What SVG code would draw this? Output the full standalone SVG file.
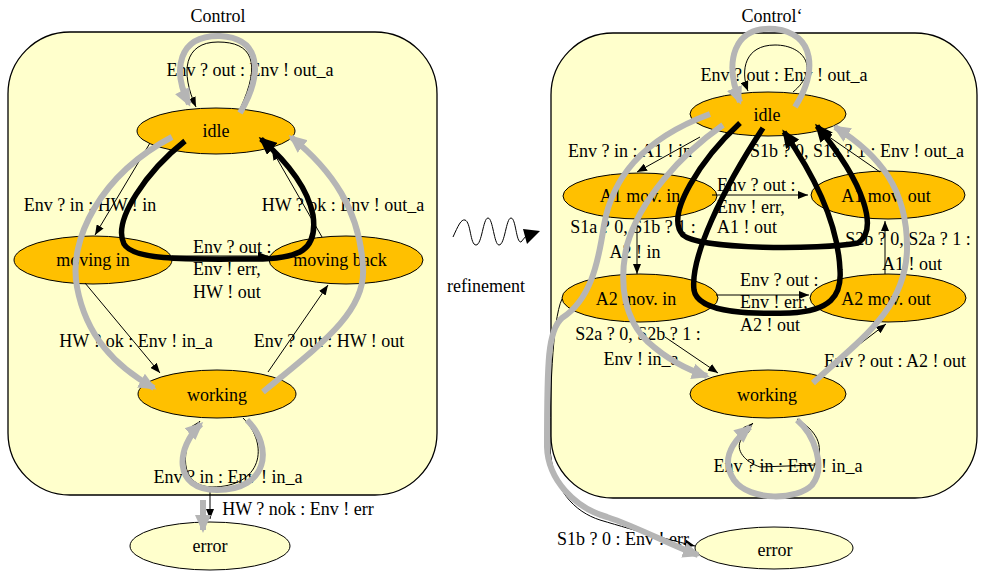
<svg xmlns="http://www.w3.org/2000/svg" width="983" height="572" viewBox="0 0 983 572">
<defs>
<style>
.bg{fill:#ffffff}
.cont{fill:#ffffcc;stroke:#000;stroke-width:1.3}
.st{fill:#ffc000;stroke:#000;stroke-width:1}
.err{fill:#ffffcc;stroke:#000;stroke-width:1}
.t{font-family:"Liberation Serif","Times New Roman",serif;font-size:18px;fill:#000}
.m{text-anchor:middle}
.thin{fill:none;stroke:#000;stroke-width:1}
.gray{fill:none;stroke:#b5b5b5;stroke-width:6}
.blk{fill:none;stroke:#000;stroke-width:5.5}
</style>
<marker id="ah" markerUnits="userSpaceOnUse" markerWidth="10" markerHeight="8" refX="10" refY="4" orient="auto"><path d="M0,0 L10,4 L0,8 z" fill="#000"/></marker>
<marker id="ag" markerUnits="userSpaceOnUse" markerWidth="18" markerHeight="18" refX="15" refY="9" orient="auto"><path d="M0,1 L18,9 L0,17 z" fill="#b5b5b5"/></marker>
<marker id="ab" markerUnits="userSpaceOnUse" markerWidth="18" markerHeight="16" refX="15" refY="8" orient="auto"><path d="M0,0 L18,8 L0,16 z" fill="#000"/></marker>
</defs>
<rect class="bg" x="0" y="0" width="983" height="572"/>

<!-- containers -->
<g id="control">
<rect class="cont" x="8" y="32" width="429" height="463" rx="62" ry="62"/>
<text class="t m" x="218" y="22">Control</text>
</g>
<g id="control2">
<rect class="cont" x="551" y="33" width="426" height="465" rx="62" ry="62"/>
<text class="t m" x="772" y="22">Control‘</text>
</g>

<!-- left nodes -->
<g id="L-idle"><ellipse class="st" cx="216" cy="131" rx="79" ry="23"/><text class="t m" x="216" y="137">idle</text></g>
<g id="L-movingin"><ellipse class="st" cx="93" cy="260" rx="79" ry="24"/><text class="t m" x="93" y="266">moving in</text></g>
<g id="L-movingback"><ellipse class="st" cx="346" cy="260" rx="77" ry="24"/><text class="t m" x="340" y="266">moving back</text></g>
<g id="L-working"><ellipse class="st" cx="217" cy="394" rx="79" ry="24"/><text class="t m" x="217" y="401">working</text></g>
<g id="L-error"><ellipse class="err" cx="210" cy="546" rx="80" ry="24"/><text class="t m" x="210" y="552">error</text></g>

<!-- right nodes -->
<g id="R-idle"><ellipse class="st" cx="768" cy="114" rx="78" ry="22"/><text class="t m" x="767" y="121">idle</text></g>
<g id="R-a1in"><ellipse class="st" cx="640" cy="196" rx="77" ry="23"/><text class="t m" x="640" y="202">A1 mov. in</text></g>
<g id="R-a1out"><ellipse class="st" cx="888" cy="195" rx="77" ry="24"/><text class="t m" x="886" y="202">A1 mov. out</text></g>
<g id="R-a2in"><ellipse class="st" cx="640" cy="298" rx="78" ry="24"/><text class="t m" x="636" y="305">A2 mov. in</text></g>
<g id="R-a2out"><ellipse class="st" cx="888" cy="298" rx="78" ry="24"/><text class="t m" x="886" y="305">A2 mov. out</text></g>
<g id="R-working"><ellipse class="st" cx="768" cy="394" rx="78" ry="24"/><text class="t m" x="767" y="401">working</text></g>
<g id="R-error"><ellipse class="err" cx="774" cy="548" rx="79" ry="21"/><text class="t m" x="775" y="556">error</text></g>

<!-- thin original transitions -->
<g id="connectors">
<path class="thin" marker-end="url(#ah)" d="M240,109 C262,62 252,42 218,42 C184,42 180,72 196,107"/>
<path class="thin" marker-end="url(#ah)" d="M150,143 L95,235"/>
<path class="thin" marker-end="url(#ah)" d="M322,237 L272,150"/>
<path class="thin" marker-end="url(#ah)" d="M172,256 L268,256"/>
<path class="thin" marker-end="url(#ah)" d="M85,283 L160,373"/>
<path class="thin" marker-end="url(#ah)" d="M268,372 L328,285"/>
<path class="thin" marker-end="url(#ah)" d="M243,418 C270,445 262,487 212,487 C180,487 178,450 200,421"/>
<path class="thin" marker-end="url(#ah)" d="M210,492 L210,519"/>

<path class="thin" marker-end="url(#ah)" d="M793,92 C820,70 805,45 775,45 C745,45 740,70 748,91"/>
<path class="thin" marker-end="url(#ah)" d="M700,137 L637,172"/>
<path class="thin" marker-end="url(#ah)" d="M880,172 L822,132"/>
<path class="thin" marker-end="url(#ah)" d="M712,195 L808,195"/>
<path class="thin" marker-end="url(#ah)" d="M637,219 L637,274"/>
<path class="thin" marker-end="url(#ah)" d="M885,274 L885,221"/>
<path class="thin" marker-end="url(#ah)" d="M716,295 L809,295"/>
<path class="thin" marker-end="url(#ah)" d="M665,337 L718,373"/>
<path class="thin" marker-end="url(#ah)" d="M818,376 L886,324"/>
<path class="thin" marker-end="url(#ah)" d="M797,419 C815,430 826,445 815,465 L760,467 C745,462 735,450 741,440 C744,433 748,428 753,423"/>
<path class="thin" marker-end="url(#ah)" d="M562,299 C552,320 550,400 550,447 C552,490 575,512 600,520 C640,532 670,540 695,546"/>
</g>

<!-- labels -->
<g id="labels">
<text class="t m" x="250" y="76">Env ? out : Env ! out_a</text>
<text class="t m" x="90" y="211">Env ? in : HW ! in</text>
<text class="t m" x="343" y="211">HW ? ok : Env ! out_a</text>
<text class="t" x="193" y="253">Env ? out :</text>
<text class="t" x="193" y="275">Env ! err,</text>
<text class="t" x="193" y="298">HW ! out</text>
<text class="t m" x="136" y="347">HW ? ok : Env ! in_a</text>
<text class="t m" x="329" y="347">Env ? out : HW ! out</text>
<text class="t m" x="228" y="483">Env ? in : Env ! in_a</text>
<text class="t m" x="298" y="515">HW ? nok : Env ! err</text>

<text class="t m" x="784" y="81">Env ? out : Env ! out_a</text>
<text class="t m" x="630" y="157">Env ? in : A1 ! in</text>
<text class="t" x="750" y="157">S1b ? 0, S1a ? 1 : Env ! out_a</text>
<text class="t" x="717" y="191">Env ? out :</text>
<text class="t" x="717" y="213">Env ! err,</text>
<text class="t" x="717" y="233">A1 ! out</text>
<text class="t m" x="633" y="233">S1a ? 0, S1b ? 1 :</text>
<text class="t m" x="635" y="258">A2 ! in</text>
<text class="t m" x="908" y="245">S2b ? 0, S2a ? 1 :</text>
<text class="t m" x="912" y="270">A1 ! out</text>
<text class="t" x="740" y="286">Env ? out :</text>
<text class="t" x="740" y="308">Env ! err,</text>
<text class="t" x="740" y="331">A2 ! out</text>
<text class="t m" x="638" y="340">S2a ? 0, S2b ? 1 :</text>
<text class="t m" x="641" y="365">Env ! in_a</text>
<text class="t m" x="895" y="367">Env ? out : A2 ! out</text>
<text class="t m" x="788" y="472">Env ? in : Env ! in_a</text>
<text class="t" x="557" y="545">S1b ? 0 : Env ! err</text>
</g>

<!-- refinement -->
<g id="refinement">
<path class="thin" stroke-width="1.3" d="M453,237 C458,226 461,219 465,220 C471,222 470,245 476,245 C482,245 483,218 488,218 C493,218 494,245 499,245 C505,245 506,218 511,218 C516,218 516,243 521,242 L526,236"/>
<path d="M523,229 L540,231 L527,244 z" fill="#000"/>
<text class="t m" x="486" y="292">refinement</text>
</g>

<!-- thick overlay arrows -->
<g id="overlay">
<path class="gray" marker-end="url(#ag)" d="M240,113 C264,72 260,38 220,36 C178,35 172,70 189,104"/>
<path class="gray" marker-end="url(#ag)" d="M172,137 C100,175 68,240 77,287 C86,336 115,366 154,388"/>
<path class="gray" marker-end="url(#ag)" d="M263,392 C320,345 366,312 363,268 C360,210 332,170 291,137"/>
<path class="gray" marker-end="url(#ag)" d="M247,420 C274,447 268,490 217,490 C172,490 176,447 201,424"/>
<path class="gray" marker-end="url(#ag)" d="M203,500 L203,530"/>
<path class="blk" marker-end="url(#ab)" d="M185,141 C148,170 112,220 124,244 C134,262 200,259 255,259 C300,259 318,250 313,215 C307,185 285,160 261,139"/>

<path class="gray" marker-end="url(#ag)" d="M795,107 C817,72 816,34 775,29 C733,25 724,62 740,102"/>
<path class="gray" marker-end="url(#ag)" d="M710,114 C640,140 612,180 604,225 C598,265 590,300 562,318 C548,330 547,360 547,447 C548,480 575,508 607,517 C640,528 670,545 698,555"/>
<path class="gray" marker-end="url(#ag)" d="M723,125 C680,155 640,200 627,245 C618,285 625,320 648,342 C668,360 688,370 707,376"/>
<path class="gray" marker-end="url(#ag)" d="M813,383 C860,340 905,310 907,250 C908,190 880,155 835,127"/>
<path class="gray" marker-end="url(#ag)" d="M797,420 C815,435 826,468 812,485 C798,500 750,502 734,480 C722,462 728,445 750,427"/>
<path class="blk" marker-end="url(#ab)" d="M740,123 C702,158 664,215 683,235 C700,250 820,250 858,243 C878,230 866,185 817,126"/>
<path class="blk" marker-end="url(#ab)" d="M763,128 C722,190 690,258 694,290 C698,315 760,314 790,313 C830,311 842,296 840,270 C838,222 812,172 784,132"/>
</g>
</svg>
